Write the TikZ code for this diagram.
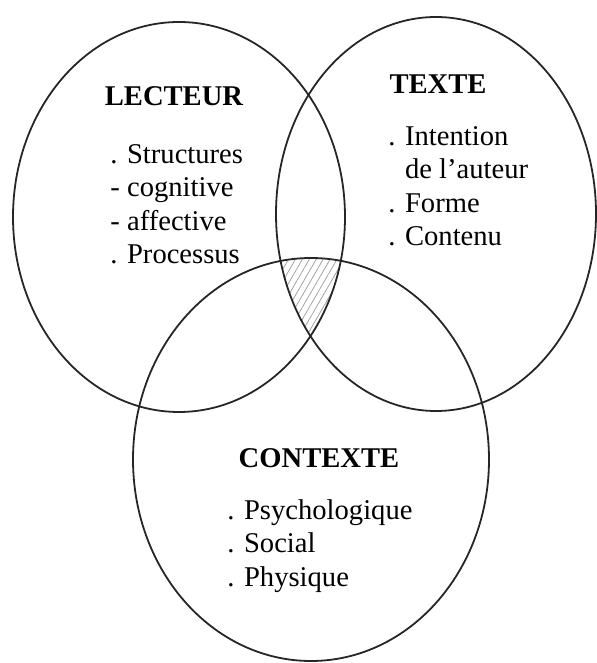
\documentclass[tikz,border=0pt]{standalone}
\usepackage{fontspec}
\setmainfont{Liberation Serif}
\usetikzlibrary{patterns.meta}
\begin{document}
\begin{tikzpicture}[
    x=0.5pt, y=0.5pt,
    EL/.style={draw=black!85, line width=0.9pt},
    TT/.style={font=\fontsize{14.3}{16.75}\selectfont\bfseries, inner sep=0pt},
    LI/.style={font=\fontsize{14.3}{16.75}\selectfont, align=left, inner sep=0pt}
    ]
    \useasboundingbox (0,0) rectangle (597,663);
    % zone commune aux trois ellipses
    \begin{scope}
      \clip (179,446) ellipse [x radius=166, y radius=195];
      \clip (436,449) ellipse [x radius=160, y radius=197];
      \fill [pattern={Lines[angle=60,distance=3pt,line width=0.35pt]}, pattern color=gray!80]
        (311,203.5) ellipse [x radius=178, y radius=201.5];
    \end{scope}
    \draw [EL] (179,446) ellipse [x radius=166, y radius=195];
    \draw [EL] (436,449) ellipse [x radius=160, y radius=197];
    \draw [EL] (311,203.5) ellipse [x radius=178, y radius=201.5];
    % LECTEUR
    \node [TT, anchor=base] (lecteur) at (174,557) {LECTEUR};
    \node [LI, anchor=north west] (lecteurlist) at (110,519)
      {. Structures\\- cognitive\\- affective\\. Processus};
    % TEXTE
    \node [TT, anchor=base] (texte) at (438,569) {TEXTE};
    \node [LI, anchor=north west] (textelist) at (388,537)
      {. Intention\\\hphantom{. }de l’auteur\\. Forme\\. Contenu};
    % CONTEXTE
    \node [TT, anchor=base] (contexte) at (319,195) {CONTEXTE};
    \node [LI, anchor=north west] (contextelist) at (227,164)
      {. Psychologique\\. Social\\. Physique};
\end{tikzpicture}
\end{document}
